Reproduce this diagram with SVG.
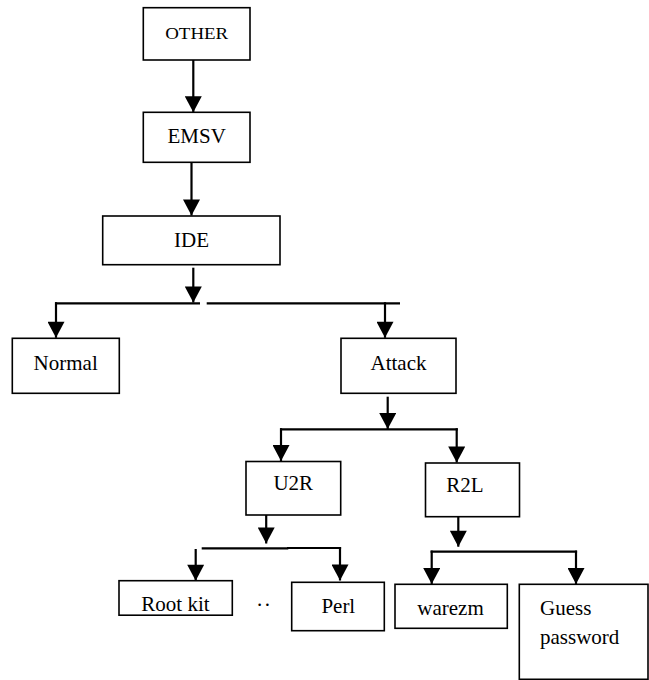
<svg xmlns="http://www.w3.org/2000/svg" width="649" height="680" viewBox="0 0 649 680">
<style>
  .box { fill: #ffffff; stroke: #000000; stroke-width: 1.6; }
  .lbl { font-size: 21px; fill: #000000; }
  .c { text-anchor: middle; }
  .conn line { stroke: #000000; stroke-width: 2.2; fill: none; }
  .arr { marker-end: url(#ah); }
</style>
<defs>
  <marker id="ah" markerUnits="userSpaceOnUse" markerWidth="17" markerHeight="17" viewBox="0 0 16 17" refX="16" refY="8.5" orient="auto">
    <path d="M0,0 L16,8.5 L0,17 z" fill="#000000"/>
  </marker>
</defs>
<rect width="649" height="680" fill="#ffffff"/>

<g font-family="'Liberation Serif', 'Times New Roman', Times, 'DejaVu Serif', serif">
<g id="other">
  <rect class="box" x="143.3" y="7.7" width="106.7" height="52.3"/>
  <text class="lbl c" x="196.7" y="39" style="font-size:17px" textLength="63" lengthAdjust="spacingAndGlyphs">OTHER</text>
</g>
<g id="emsv">
  <rect class="box" x="143.3" y="112.3" width="106.7" height="50"/>
  <text class="lbl c" x="196.7" y="143.3">EMSV</text>
</g>
<g id="ide">
  <rect class="box" x="102.7" y="216" width="177.3" height="48.7"/>
  <text class="lbl c" x="191.5" y="247.3">IDE</text>
</g>
<g id="normal">
  <rect class="box" x="12.3" y="338.3" width="107" height="55"/>
  <text class="lbl c" x="65.7" y="369.5">Normal</text>
</g>
<g id="attack">
  <rect class="box" x="341" y="338.3" width="115" height="55"/>
  <text class="lbl c" x="398.5" y="369.5">Attack</text>
</g>
<g id="u2r">
  <rect class="box" x="246" y="461.5" width="94.7" height="53.5"/>
  <text class="lbl c" x="293.3" y="489.5">U2R</text>
</g>
<g id="r2l">
  <rect class="box" x="425.5" y="463" width="94" height="53.7"/>
  <text class="lbl c" x="465" y="492">R2L</text>
</g>
<g id="rootkit">
  <rect class="box" x="119" y="580.7" width="113.3" height="34.5"/>
  <text class="lbl c" x="175.5" y="611">Root kit</text>
</g>
<g id="ellipsis">
  <text class="lbl" x="257" y="606" style="letter-spacing:2.5px">..</text>
</g>
<g id="perl">
  <rect class="box" x="291.7" y="582.3" width="92.6" height="48.4"/>
  <text class="lbl c" x="338.3" y="613">Perl</text>
</g>
<g id="warezm">
  <rect class="box" x="395" y="584.3" width="112.3" height="44"/>
  <text class="lbl c" x="450.5" y="615">warezm</text>
</g>
<g id="guess">
  <rect class="box" x="519.3" y="584.3" width="128.7" height="95"/>
  <text class="lbl" x="540" y="615">Guess</text>
  <text class="lbl" x="540" y="644">password</text>
</g>
</g>

<g id="connectors" class="conn">
  <line class="arr" x1="193.3" y1="60" x2="193.3" y2="112.3"/>
  <line class="arr" x1="191.5" y1="162.3" x2="191.5" y2="215.5"/>
  <line class="arr" x1="193.3" y1="267.7" x2="193.3" y2="302.5"/>
  <line x1="55" y1="303.3" x2="200" y2="303.3"/>
  <line x1="206.7" y1="303.3" x2="400" y2="303.3"/>
  <line class="arr" x1="56" y1="302.2" x2="56" y2="337.8"/>
  <line class="arr" x1="385" y1="302.2" x2="385" y2="337.8"/>
  <line class="arr" x1="387.7" y1="396.7" x2="387.7" y2="429"/>
  <line x1="280" y1="429.3" x2="457.8" y2="429.3"/>
  <line class="arr" x1="281" y1="428.2" x2="281" y2="461"/>
  <line class="arr" x1="456.7" y1="428.2" x2="456.7" y2="462.5"/>
  <line class="arr" x1="266.2" y1="515" x2="266.2" y2="543.5"/>
  <line x1="201.7" y1="548.3" x2="288.3" y2="548.3"/>
  <line x1="287" y1="548" x2="341.1" y2="548"/>
  <line class="arr" x1="195.7" y1="549" x2="195.7" y2="580.7"/>
  <line class="arr" x1="340" y1="547" x2="340" y2="580.5"/>
  <line class="arr" x1="458.3" y1="516.7" x2="458.3" y2="546.7"/>
  <line x1="430.6" y1="551.7" x2="577.1" y2="551.7"/>
  <line class="arr" x1="431.7" y1="550.6" x2="431.7" y2="584"/>
  <line class="arr" x1="576" y1="550.6" x2="576" y2="584"/>
</g>
</svg>
